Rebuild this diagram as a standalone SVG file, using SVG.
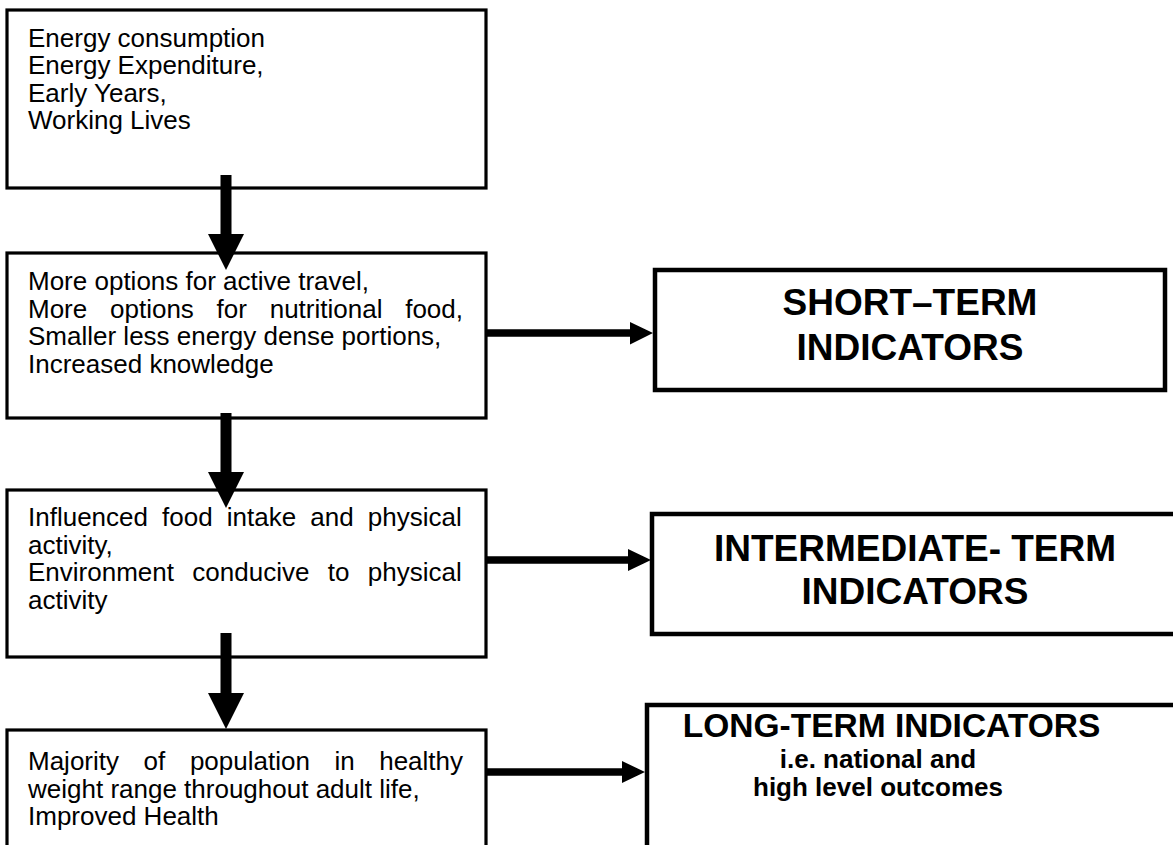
<svg xmlns="http://www.w3.org/2000/svg" width="1173" height="845" viewBox="0 0 1173 845">
<style>
.box{fill:#fff;stroke:#000;stroke-width:3.2}
.ibox{fill:#fff;stroke:#000;stroke-width:4.5}
.t{font-family:"Liberation Sans",Arial,sans-serif;font-size:26px;fill:#000}
.b{font-family:"Liberation Sans",Arial,sans-serif;font-weight:bold;fill:#000;text-anchor:middle}
.arr{fill:#000}
</style>
<rect x="0" y="0" width="1173" height="845" fill="#fff"/>
<g id="n1">
<rect class="box" x="7" y="10" width="479" height="178"/>
<text class="t" x="28" y="46.5">Energy consumption</text>
<text class="t" x="28" y="74">Energy Expenditure,</text>
<text class="t" x="28" y="101.5">Early Years,</text>
<text class="t" x="28" y="129">Working Lives</text>
</g>
<g id="n2">
<rect class="box" x="7" y="253" width="479" height="165"/>
<text class="t" x="28" y="290">More options for active travel,</text>
<text class="t" y="317.5"><tspan x="28">More</tspan><tspan x="110">options</tspan><tspan x="216.6">for</tspan><tspan x="269.7">nutritional</tspan><tspan x="405.2">food,</tspan></text>
<text class="t" x="28" y="345">Smaller less energy dense portions,</text>
<text class="t" x="28" y="372.5">Increased knowledge</text>
</g>
<g id="n3">
<rect class="box" x="7" y="490" width="479" height="167"/>
<text class="t" y="526"><tspan x="28">Influenced</tspan><tspan x="162.1">food</tspan><tspan x="226.8">intake</tspan><tspan x="310.3">and</tspan><tspan x="367.8">physical</tspan></text>
<text class="t" x="28" y="553.5">activity,</text>
<text class="t" y="581"><tspan x="28">Environment</tspan><tspan x="192.3">conducive</tspan><tspan x="327.8">to</tspan><tspan x="367.8">physical</tspan></text>
<text class="t" x="28" y="608.5">activity</text>
</g>
<g id="n4">
<rect class="box" x="7" y="730" width="479" height="130"/>
<text class="t" y="770"><tspan x="28">Majority</tspan><tspan x="143.6">of</tspan><tspan x="189.9">population</tspan><tspan x="334.5">in</tspan><tspan x="379.2">healthy</tspan></text>
<text class="t" x="28" y="797.5">weight range throughout adult life,</text>
<text class="t" x="28" y="825">Improved Health</text>
</g>
<g id="s1">
<rect class="ibox" x="655" y="270" width="510" height="120"/>
<text class="b" x="910" y="315" font-size="37">SHORT–TERM</text>
<text class="b" x="910" y="360" font-size="37">INDICATORS</text>
</g>
<g id="s2">
<rect class="ibox" x="652" y="514" width="530" height="120"/>
<text class="b" x="915" y="561" font-size="37">INTERMEDIATE- TERM</text>
<text class="b" x="915" y="604" font-size="37">INDICATORS</text>
</g>
<g id="s3">
<rect class="ibox" x="647" y="705" width="540" height="160"/>
<text class="b" x="891.5" y="737" font-size="33.5">LONG-TERM INDICATORS</text>
<text class="b" x="878" y="768" font-size="26">i.e. national and</text>
<text class="b" x="878" y="796" font-size="26">high level outcomes</text>
</g>
<g id="connectors">
<path class="arr" d="M220.5,175 H231.5 V234 H244 L226,270 L208,234 H220.5 Z"/>
<path class="arr" d="M220.5,413 H231.5 V472 H244 L226,508 L208,472 H220.5 Z"/>
<path class="arr" d="M220.5,633 H231.5 V693 H244 L226,729 L208,693 H220.5 Z"/>
<path class="arr" d="M486,329.3 H630 V322 L653,333 L630,344.5 V336.7 H486 Z"/>
<path class="arr" d="M486,556.3 H628 V549 L651,560 L628,571 V563.7 H486 Z"/>
<path class="arr" d="M486,768.3 H622 V761 L645,772 L622,783 V775.7 H486 Z"/>
</g>
</svg>
